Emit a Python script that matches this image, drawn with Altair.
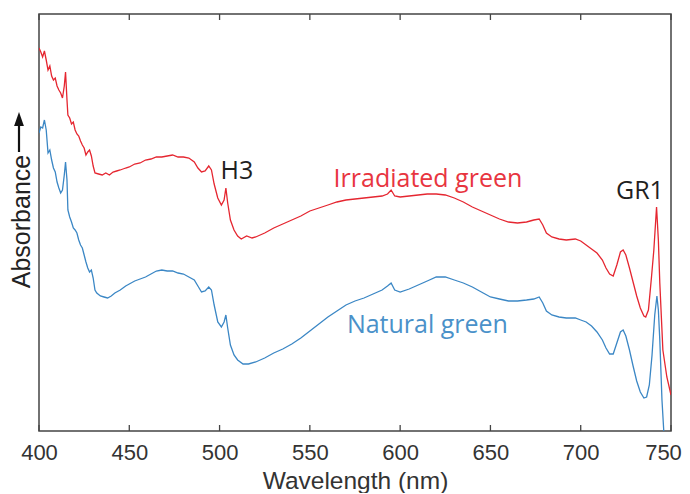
import altair as alt
import pandas as pd

# Irradiated green diamond spectrum (arbitrary absorbance units)
irr_wl = [400, 401, 402, 403, 404, 405, 406, 407, 408, 409, 410, 411, 412, 413, 414, 414.7, 415.5, 416, 417, 418,
          419, 420, 421, 422, 423, 424, 425, 426, 427, 428, 429, 430, 431, 433, 435, 437, 439, 441, 443, 445,
          448, 450, 453, 456, 459, 462, 465, 468, 471, 474, 477, 480, 483, 486, 488, 490, 492, 494, 495.5, 497,
          499, 501, 502.5, 503.5, 504.5, 506, 508, 510, 512, 515, 518, 520, 525, 530, 535, 540, 545, 550, 555, 560,
          565, 570, 575, 580, 585, 590, 593, 595, 597, 600, 605, 610, 615, 620, 625, 630, 635, 640, 645, 650,
          655, 660, 665, 670, 674, 677, 679, 681, 684, 688, 692, 697, 700, 703, 706, 709, 712, 714, 716, 718,
          720, 722, 723.5, 725, 727, 729, 731, 733, 735, 736, 737.5, 739.2, 740.5, 742.0, 743, 743.8, 745.5, 747.7, 750]
irr_abs = [3.83, 3.79, 3.74, 3.80, 3.71, 3.61, 3.65, 3.55, 3.51, 3.53, 3.45, 3.41, 3.38, 3.33, 3.45, 3.59, 3.31, 3.16, 3.13, 3.07,
           3.09, 3.01, 2.97, 2.95, 2.90, 2.86, 2.83, 2.76, 2.79, 2.81, 2.75, 2.65, 2.58, 2.57, 2.56, 2.58, 2.56, 2.59, 2.60, 2.61,
           2.63, 2.64, 2.67, 2.68, 2.71, 2.72, 2.74, 2.74, 2.75, 2.76, 2.74, 2.74, 2.73, 2.69, 2.63, 2.59, 2.60, 2.65, 2.61, 2.47,
           2.33, 2.26, 2.31, 2.43, 2.28, 2.11, 2.01, 1.95, 1.92, 1.95, 1.93, 1.94, 1.98, 2.03, 2.07, 2.11, 2.15, 2.20, 2.23, 2.26,
           2.29, 2.31, 2.32, 2.33, 2.34, 2.35, 2.37, 2.41, 2.35, 2.34, 2.35, 2.36, 2.37, 2.37, 2.36, 2.33, 2.29, 2.24, 2.20, 2.16,
           2.12, 2.09, 2.08, 2.09, 2.11, 2.12, 2.06, 1.98, 1.94, 1.92, 1.91, 1.92, 1.90, 1.86, 1.82, 1.78, 1.71, 1.63, 1.57, 1.55,
           1.66, 1.79, 1.81, 1.76, 1.63, 1.49, 1.35, 1.23, 1.15, 1.14, 1.21, 1.54, 1.81, 2.24, 1.91, 1.48, 0.81, 0.54, 0.36]

# Natural green diamond spectrum
nat_wl = [400, 401, 402, 403, 404, 405, 406, 407, 408, 409, 410, 411, 412, 413, 414, 414.7, 415.5, 416, 417, 418,
          419, 420, 421, 422, 423, 424, 425, 426, 427, 428, 429, 430, 431, 432, 434, 436, 438, 440, 442, 445,
          448, 450, 453, 456, 459, 462, 465, 468, 471, 474, 477, 480, 483, 486, 488, 490, 492, 494, 495.5, 497,
          499, 501, 502.5, 503.5, 504.5, 506, 508, 510, 513, 516, 520, 525, 530, 535, 540, 545, 550, 555, 560, 565,
          570, 575, 580, 585, 590, 593, 595, 597, 600, 605, 610, 615, 620, 625, 630, 635, 640, 645, 650, 655,
          660, 665, 670, 674, 677, 679, 681, 684, 688, 692, 697, 700, 703, 706, 709, 712, 714, 716, 718, 720,
          722, 723.5, 725, 727, 729, 731, 733, 735, 736.5, 738, 739.5, 741, 742.2, 743, 743.8, 745, 746, 747, 750]
nat_abs = [2.98, 3.04, 3.03, 3.11, 3.01, 2.78, 2.81, 2.71, 2.63, 2.59, 2.49, 2.43, 2.38, 2.41, 2.56, 2.69, 2.51, 2.21, 2.14, 2.09,
           2.03, 2.01, 1.98, 1.91, 1.86, 1.83, 1.76, 1.69, 1.63, 1.59, 1.61, 1.53, 1.41, 1.38, 1.35, 1.34, 1.33, 1.35, 1.38, 1.41,
           1.45, 1.47, 1.50, 1.52, 1.54, 1.57, 1.60, 1.61, 1.60, 1.60, 1.58, 1.57, 1.54, 1.51, 1.45, 1.39, 1.40, 1.44, 1.41, 1.26,
           1.09, 1.04, 1.09, 1.16, 1.03, 0.86, 0.76, 0.71, 0.67, 0.67, 0.69, 0.73, 0.78, 0.82, 0.87, 0.93, 1.00, 1.07, 1.14, 1.20,
           1.26, 1.30, 1.33, 1.37, 1.41, 1.45, 1.48, 1.41, 1.39, 1.42, 1.46, 1.50, 1.54, 1.54, 1.51, 1.48, 1.44, 1.39, 1.34, 1.32,
           1.30, 1.30, 1.31, 1.32, 1.34, 1.28, 1.20, 1.16, 1.14, 1.13, 1.13, 1.11, 1.09, 1.05, 0.99, 0.91, 0.83, 0.77, 0.77, 0.88,
           0.99, 1.01, 0.95, 0.81, 0.65, 0.50, 0.39, 0.33, 0.34, 0.46, 0.76, 1.16, 1.35, 1.21, 0.91, 0.31, 0.00, -0.29, -0.89]

series_names = ["Irradiated green", "Natural green"]
series_colors = ["#e52630", "#3b87c5"]

tick_vals = [400, 450, 500, 550, 600, 650, 700, 750]

label_text = ["H3", "Irradiated green", "Natural green", "GR1"]
label_wl = [509.6, 615.4, 615.1, 732.8]
label_abs = [2.52, 2.44, 0.98, 2.32]
label_col = ["#1f1f1f", "#e8353f", "#4a91c9", "#1f1f1f"]

W, H = 632, 417

spec = pd.concat([
    pd.DataFrame({"wl": irr_wl, "abs": irr_abs, "series": series_names[0]}),
    pd.DataFrame({"wl": nat_wl, "abs": nat_abs, "series": series_names[1]}),
])
labels = pd.DataFrame({"text": label_text, "wl": label_wl, "abs": label_abs, "col": label_col})
ticks = pd.DataFrame({"t": tick_vals})

xscale = alt.Scale(domain=[400, 750], nice=False, zero=False)
yscale = alt.Scale(domain=[0, 4.17], nice=False, zero=False)

lines = alt.Chart(spec).mark_line(strokeWidth=1.3, clip=True).encode(
    x=alt.X("wl:Q", scale=xscale, axis=alt.Axis(
        values=tick_vals, title="Wavelength (nm)", ticks=False, domain=False, grid=False,
        labelFlush=False, labelOverlap=False,
        labelOffset={"condition": {"test": "datum.value >= 750", "value": -8}, "value": 0},
        labelFont="Liberation Sans", labelFontSize=22, labelColor="#333333", labelPadding=11,
        titleFont="Liberation Sans", titleFontSize=24.5, titleFontWeight="normal", titleColor="#333333",
        titleY=57, titleBaseline="alphabetic")),
    y=alt.Y("abs:Q", scale=yscale, axis=alt.Axis(
        title="Absorbance", labels=False, ticks=False, domain=False, grid=False,
        titleFont="Liberation Sans", titleFontSize=25, titleFontWeight="normal", titleColor="#222222",
        titleAngle=270, titleX=-10, titleY=207, titleAlign="center", titleBaseline="alphabetic")),
    color=alt.Color("series:N", scale=alt.Scale(domain=series_names, range=series_colors), legend=None),
    detail="series:N",
    order=alt.Order("wl:Q"),
)

text = alt.Chart(labels).mark_text(font="Open Sans", fontSize=25, align="center", baseline="alphabetic").encode(
    x=alt.X("wl:Q", scale=xscale),
    y=alt.Y("abs:Q", scale=yscale),
    text="text:N",
    color=alt.Color("col:N", scale=None),
)

bottom_ticks = alt.Chart(ticks).mark_rule(color="#444444", strokeWidth=1.3).encode(
    x=alt.X("t:Q", scale=xscale), y=alt.value(H), y2=alt.value(H - 6))
top_ticks = alt.Chart(ticks).mark_rule(color="#444444", strokeWidth=1.3).encode(
    x=alt.X("t:Q", scale=xscale), y=alt.value(0), y2=alt.value(6))

# upward arrow next to the y-axis title
arrow_shaft = alt.Chart(ticks.head(1)).mark_rule(color="#111111", strokeWidth=2.2).encode(
    x=alt.value(-20), y=alt.value(111), y2=alt.value(138))
arrow_head = alt.Chart(ticks.head(1)).mark_point(
    shape="M0,-1L0.7,1L-0.7,1Z", filled=True, color="#111111", opacity=1, size=196, strokeWidth=0
).encode(x=alt.value(-20), y=alt.value(105))

chart = alt.layer(lines, text, bottom_ticks, top_ticks, arrow_shaft, arrow_head).properties(
    width=W, height=H,
    autosize=alt.AutoSizeParams(type="none"),
    padding={"left": 31, "top": 6, "right": 11, "bottom": 62},
).configure_view(stroke="#444444", strokeWidth=1.5)

chart.save("out.html", embed_options={"renderer": "svg", "actions": False})
